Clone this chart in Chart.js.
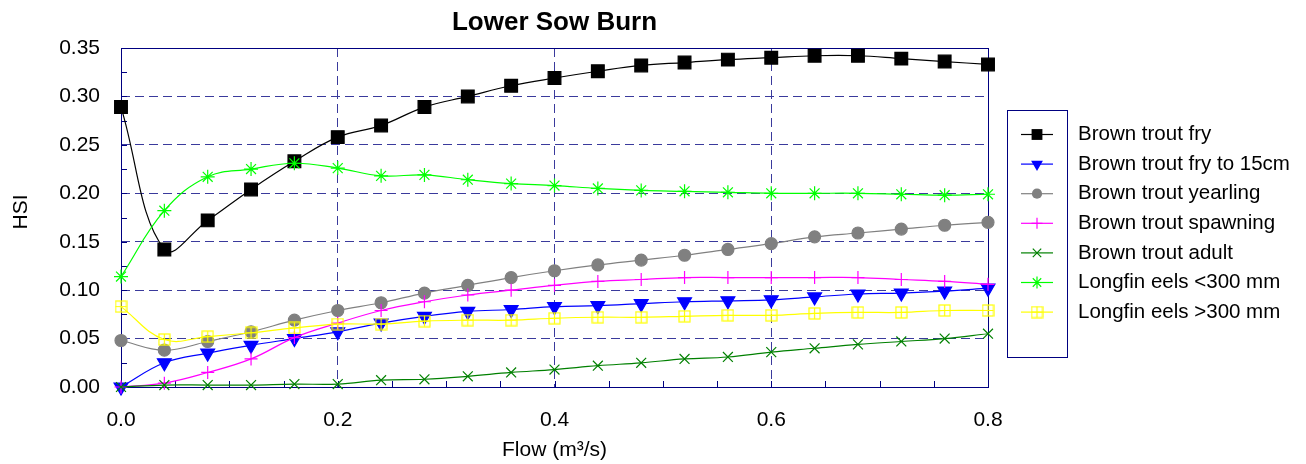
<!DOCTYPE html>
<html>
<head>
<meta charset="utf-8">
<title>Lower Sow Burn</title>
<script src="https://cdn.jsdelivr.net/npm/chart.js@4.4.1/dist/chart.umd.min.js"></script>
<style>
  html, body { margin: 0; padding: 0; background: #fff; }
  #wrap { width: 1306px; height: 464px; }
</style>
</head>
<body>
<div id="wrap"><canvas id="hsiChart" width="1306" height="464"></canvas></div>
<script>
// ── Data ───────────────────────────────────────────────────────────────────
const flows      = [0, 0.04, 0.08, 0.12, 0.16, 0.2, 0.24, 0.28, 0.32, 0.36, 0.4,
                    0.44, 0.48, 0.52, 0.56, 0.6, 0.64, 0.68, 0.72, 0.76, 0.8];
const troutFry   = [0.289, 0.142, 0.172, 0.204, 0.233, 0.258, 0.270, 0.289, 0.300, 0.311, 0.319,
                    0.326, 0.332, 0.335, 0.338, 0.340, 0.342, 0.342, 0.339, 0.336, 0.333];
const troutFry15 = [0.000, 0.025, 0.035, 0.043, 0.050, 0.057, 0.066, 0.073, 0.078, 0.080, 0.083,
                    0.084, 0.086, 0.088, 0.089, 0.090, 0.093, 0.096, 0.097, 0.099, 0.102];
const yearling   = [0.048, 0.038, 0.047, 0.057, 0.069, 0.079, 0.087, 0.097, 0.105, 0.113, 0.120,
                    0.126, 0.131, 0.136, 0.142, 0.148, 0.155, 0.159, 0.163, 0.167, 0.170];
const spawning   = [0.000, 0.004, 0.015, 0.029, 0.051, 0.066, 0.079, 0.088, 0.095, 0.100, 0.105,
                    0.109, 0.111, 0.113, 0.113, 0.113, 0.113, 0.113, 0.111, 0.109, 0.106];
const adult      = [0.000, 0.002, 0.002, 0.002, 0.003, 0.003, 0.007, 0.008, 0.011, 0.015, 0.018,
                    0.022, 0.025, 0.029, 0.031, 0.036, 0.040, 0.044, 0.047, 0.050, 0.055];
const eelsSmall  = [0.114, 0.182, 0.217, 0.225, 0.231, 0.226, 0.218, 0.219, 0.214, 0.210, 0.208,
                    0.205, 0.203, 0.202, 0.201, 0.200, 0.200, 0.200, 0.199, 0.198, 0.199];
const eelsLarge  = [0.083, 0.049, 0.052, 0.056, 0.061, 0.065, 0.065, 0.068, 0.069, 0.069, 0.071,
                    0.072, 0.072, 0.073, 0.074, 0.074, 0.076, 0.077, 0.077, 0.079, 0.079];

const seriesNames = ['Brown trout fry', 'Brown trout fry to 15cm', 'Brown trout yearling',
                     'Brown trout spawning', 'Brown trout adult', 'Longfin eels <300 mm', 'Longfin eels >300 mm'];
const xTicks = [0, 0.2, 0.4, 0.6, 0.8];
const yTicks = [0, 0.05, 0.1, 0.15, 0.2, 0.25, 0.3, 0.35];

// ── Styling ────────────────────────────────────────────────────────────────
const FONT = "'Liberation Sans', Arial, sans-serif";
const NAVY = '#000080';
const GRID = '#3a3a9c';

// yellow square with a cross inside (⊞)
function boxCross(color, size) {
  const c = document.createElement('canvas');
  c.width = size; c.height = size;
  const g = c.getContext('2d');
  g.strokeStyle = color; g.lineWidth = 1.2;
  g.strokeRect(1, 1, size - 2, size - 2);
  g.beginPath();
  g.moveTo(size / 2, 1); g.lineTo(size / 2, size - 1);
  g.moveTo(1, size / 2); g.lineTo(size - 1, size / 2);
  g.stroke();
  return c;
}
const boxCrossYellow = boxCross('#ffff00', 13);

const styles = [
  { color: '#000000', point: 'rect',     radius: 9,   rotation: 0,   fill: true },
  { color: '#0000ff', point: 'triangle', radius: 8,   rotation: 180, fill: true },
  { color: '#808080', point: 'circle',   radius: 6,   rotation: 0,   fill: true },
  { color: '#ff00ff', point: 'cross',    radius: 6.5, rotation: 0,   fill: false },
  { color: '#008000', point: 'crossRot', radius: 7,   rotation: 0,   fill: false },
  { color: '#00ff00', point: 'star',     radius: 7,   rotation: 0,   fill: false },
  { color: '#ffff00', point: boxCrossYellow, radius: 6.5, rotation: 0, fill: false }
];

const seriesValues = [troutFry, troutFry15, yearling, spawning, adult, eelsSmall, eelsLarge];

const datasets = seriesValues.map((vals, i) => ({
  label: seriesNames[i],
  data: vals.map((v, j) => ({ x: flows[j], y: v })),
  borderColor: styles[i].color,
  backgroundColor: styles[i].fill ? styles[i].color : 'rgba(0,0,0,0)',
  pointBorderColor: styles[i].color,
  pointBackgroundColor: styles[i].fill ? styles[i].color : 'rgba(0,0,0,0)',
  pointStyle: styles[i].point,
  pointRadius: styles[i].radius,
  pointRotation: styles[i].rotation,
  pointBorderWidth: 1.2,
  borderWidth: 1.2,
  tension: 0.4,
  fill: false,
  clip: false,
  order: seriesValues.length - i   // later series drawn on top
}));

// ── Frame, minor ticks, title, axis titles, legend ─────────────────────────
function drawMarker(ctx, st, x, y) {
  ctx.save();
  ctx.strokeStyle = st.color;
  ctx.fillStyle = st.color;
  ctx.lineWidth = 1.2;
  const r = st.radius;
  ctx.beginPath();
  if (st.point === 'rect') {
    const s = Math.SQRT1_2 * r;
    ctx.fillRect(x - s, y - s, 2 * s, 2 * s);
  } else if (st.point === 'triangle') {
    ctx.moveTo(x - r * 0.866, y - r * 0.5);
    ctx.lineTo(x + r * 0.866, y - r * 0.5);
    ctx.lineTo(x, y + r);
    ctx.closePath(); ctx.fill();
  } else if (st.point === 'circle') {
    ctx.arc(x, y, r, 0, Math.PI * 2); ctx.fill();
  } else if (st.point === 'cross') {
    ctx.moveTo(x - r, y); ctx.lineTo(x + r, y);
    ctx.moveTo(x, y - r); ctx.lineTo(x, y + r); ctx.stroke();
  } else if (st.point === 'crossRot') {
    const d = r * Math.SQRT1_2;
    ctx.moveTo(x - d, y - d); ctx.lineTo(x + d, y + d);
    ctx.moveTo(x - d, y + d); ctx.lineTo(x + d, y - d); ctx.stroke();
  } else if (st.point === 'star') {
    const d = r * Math.SQRT1_2;
    ctx.moveTo(x - r, y); ctx.lineTo(x + r, y);
    ctx.moveTo(x, y - r); ctx.lineTo(x, y + r);
    ctx.moveTo(x - d, y - d); ctx.lineTo(x + d, y + d);
    ctx.moveTo(x - d, y + d); ctx.lineTo(x + d, y - d); ctx.stroke();
  } else {
    ctx.drawImage(st.point, x - st.point.width / 2, y - st.point.height / 2);
  }
  ctx.restore();
}

const decor = {
  id: 'decor',
  beforeDatasetsDraw(chart) {
    const { ctx, chartArea: a, scales: { x, y } } = chart;
    ctx.save();
    ctx.strokeStyle = NAVY;
    ctx.lineWidth = 1;
    // minor ticks, pointing inward
    ctx.beginPath();
    for (let v = 0.025; v < 0.35; v += 0.025) {
      const py = Math.round(y.getPixelForValue(v)) + 0.5;
      ctx.moveTo(a.left, py); ctx.lineTo(a.left + 6, py);
    }
    for (let v = 0.05; v < 0.8; v += 0.05) {
      const px = Math.round(x.getPixelForValue(v)) + 0.5;
      ctx.moveTo(px, a.bottom); ctx.lineTo(px, a.bottom - 6);
    }
    ctx.stroke();
    // frame
    ctx.strokeRect(Math.round(a.left) + 0.5, Math.round(a.top) + 0.5,
                   Math.round(a.right - a.left), Math.round(a.bottom - a.top));
    ctx.restore();
  },
  afterDraw(chart) {
    const { ctx, chartArea: a } = chart;
    ctx.save();
    ctx.fillStyle = '#000';
    // title
    ctx.font = 'bold 26px ' + FONT;
    ctx.textAlign = 'center';
    ctx.textBaseline = 'middle';
    ctx.fillText('Lower Sow Burn', (a.left + a.right) / 2, 23);
    // x title
    ctx.font = '21px ' + FONT;
    ctx.fillText('Flow (m\u00b3/s)', (a.left + a.right) / 2, 450);
    // y title
    ctx.save();
    ctx.translate(21, 212);
    ctx.rotate(-Math.PI / 2);
    ctx.fillText('HSI', 0, 0);
    ctx.restore();
    // legend box
    ctx.strokeStyle = NAVY;
    ctx.lineWidth = 1;
    ctx.strokeRect(1007.5, 110.5, 60, 247);
    ctx.font = '20.5px ' + FONT;
    ctx.textAlign = 'left';
    styles.forEach((st, i) => {
      const ry = 134.5 + i * 29.6;
      ctx.save();
      ctx.strokeStyle = st.color;
      ctx.lineWidth = 1.2;
      ctx.beginPath();
      ctx.moveTo(1021, ry); ctx.lineTo(1053, ry);
      ctx.stroke();
      ctx.restore();
      drawMarker(ctx, Object.assign({}, st, { radius: st.radius * 0.85 }), 1037, ry);
      ctx.fillStyle = '#000';
      ctx.fillText(seriesNames[i], 1078, ry);
    });
    ctx.restore();
  }
};

// ── Chart ──────────────────────────────────────────────────────────────────
new Chart(document.getElementById('hsiChart'), {
  type: 'line',
  data: { datasets },
  plugins: [decor],
  options: {
    responsive: false,
    animation: false,
    devicePixelRatio: 1,
    layout: { padding: { top: 48, right: 318, bottom: 0, left: 0 } },
    plugins: { legend: { display: false }, title: { display: false }, tooltip: { enabled: false } },
    scales: {
      x: {
        type: 'linear', min: 0, max: 0.8,
        afterBuildTicks(scale) { scale.ticks = xTicks.map(v => ({ value: v })); },
        afterFit(scale) { scale.height = 77; },
        ticks: {
          color: '#000', font: { family: FONT, size: 21 }, padding: 21, maxRotation: 0,
          callback: v => v.toFixed(1)
        },
        grid: {
          drawTicks: false, lineWidth: 1,
          color: c => (c.tick && c.tick.value > 0.001 && c.tick.value < 0.799) ? GRID : 'rgba(0,0,0,0)'
        },
        border: { display: false, dash: [9, 5] }
      },
      y: {
        min: 0, max: 0.35,
        afterBuildTicks(scale) { scale.ticks = yTicks.map(v => ({ value: v })); },
        afterFit(scale) { scale.width = 121; },
        ticks: {
          color: '#000', font: { family: FONT, size: 21 }, padding: 21,
          callback: v => v.toFixed(2)
        },
        grid: {
          drawTicks: false, lineWidth: 1,
          color: c => (c.tick && c.tick.value > 0.001 && c.tick.value < 0.349) ? GRID : 'rgba(0,0,0,0)'
        },
        border: { display: false, dash: [9, 5] }
      }
    }
  }
});
</script>
</body>
</html>
